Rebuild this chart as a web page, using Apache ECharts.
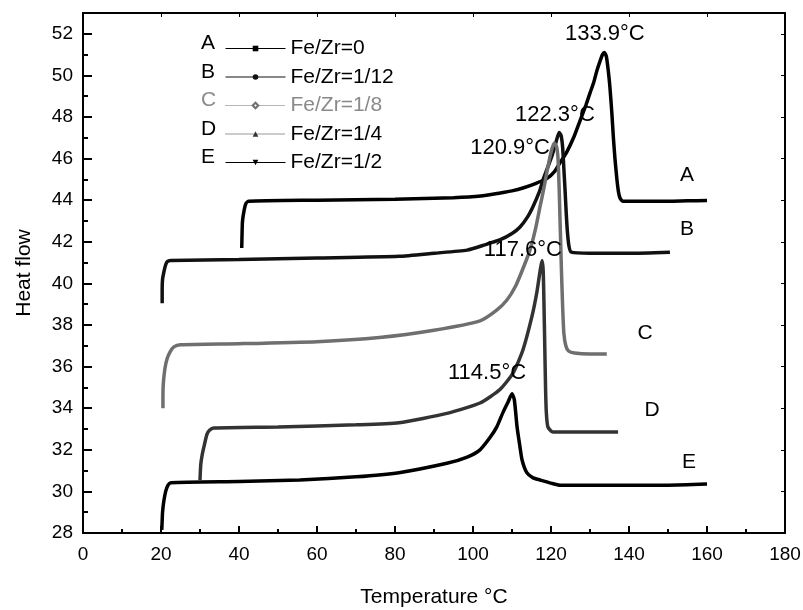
<!DOCTYPE html>
<html>
<head>
<meta charset="utf-8">
<title>DSC heat flow</title>
<script src="https://cdn.jsdelivr.net/npm/echarts@6/dist/echarts.min.js"></script>
<style>
  html, body { margin: 0; padding: 0; background: #fff; }
  #main { width: 803px; height: 610px; }
</style>
</head>
<body>
<div id="main"></div>
<script>
// curves: temperature (C) and heat flow
var aTemp = [40.7, 40.8, 40.9, 41.3, 41.8, 42.5, 60, 80, 95, 102, 107, 110, 113, 116, 119, 121, 122.3, 124, 126, 127.5, 129, 130, 131, 131.8, 132.6, 133.2, 133.7, 134.2, 134.7, 135.1, 135.6, 136, 136.4, 136.9, 137.3, 137.7, 138.5, 145, 150, 155, 160]
var aFlow = [41.7, 42.5, 43.0, 43.5, 43.85, 43.95, 44.0, 44.05, 44.12, 44.2, 44.35, 44.45, 44.6, 44.8, 45.05, 45.4, 45.8, 46.3, 47.1, 47.85, 48.6, 49.15, 49.7, 50.25, 50.7, 51.0, 51.1, 50.9, 50.2, 49.45, 48.2, 47.0, 46.0, 45.0, 44.4, 44.1, 43.95, 43.95, 43.95, 43.97, 43.98]

var bTemp = [20.3, 20.3, 20.4, 20.8, 21.2, 21.6, 22.5, 40, 60, 81, 90, 98.5, 103, 107, 110, 112, 114, 115.4, 117, 118, 119.2, 120.2, 121, 121.6, 122.1, 122.6, 123, 123.3, 123.6, 123.9, 124.2, 124.6, 125.2, 130, 140, 150.5]
var bFlow = [39.05, 39.6, 40.2, 40.6, 40.9, 41.05, 41.1, 41.15, 41.22, 41.3, 41.45, 41.6, 41.85, 42.1, 42.4, 42.7, 43.2, 43.7, 44.4, 45.0, 45.6, 46.1, 46.6, 47.0, 47.25, 47.1, 46.5, 45.5, 44.5, 43.4, 42.5, 41.8, 41.5, 41.45, 41.45, 41.5]

var cTemp = [20.5, 20.5, 20.6, 21.0, 21.6, 22.3, 23.3, 25, 40, 60, 76, 90, 101.8, 106, 108.7, 111, 113, 114.6, 116, 117.2, 118.2, 119.2, 120, 120.8, 121.4, 121.8, 122.1, 122.4, 122.7, 123, 123.3, 123.8, 124.5, 126, 130, 134.3]
var cFlow = [34.0, 34.6, 35.2, 35.9, 36.4, 36.7, 36.95, 37.05, 37.1, 37.2, 37.4, 37.75, 38.2, 38.7, 39.2, 39.9, 40.8, 41.6, 42.6, 43.7, 44.6, 45.6, 46.3, 46.75, 46.6, 46.0, 44.5, 42.5, 40.5, 38.8, 37.6, 37.0, 36.75, 36.65, 36.6, 36.6]

var dTemp = [30.0, 30.2, 30.6, 31.2, 31.8, 32.5, 33.5, 50, 70, 81, 93.3, 101.8, 106.9, 110.3, 112.8, 115.1, 116.4, 117.2, 117.7, 118.0, 118.2, 118.4, 118.6, 118.8, 119.2, 120.5, 130, 137.2]
var dFlow = [30.55, 31.3, 31.8, 32.3, 32.75, 32.95, 33.05, 33.1, 33.2, 33.3, 33.75, 34.25, 34.9, 35.7, 36.8, 38.4, 39.6, 40.6, 41.1, 40.6, 39.0, 37.0, 35.0, 33.8, 33.1, 32.85, 32.85, 32.85]

var eTemp = [20.2, 20.3, 20.4, 20.7, 21.2, 21.8, 22.5, 40, 55.6, 70, 81, 93.3, 98.5, 101.8, 104.4, 106.1, 107.7, 109, 110, 110.6, 111.3, 112, 112.6, 113.8, 115.4, 117.2, 120, 122.3, 130, 140, 150, 160]
var eFlow = [28.15, 28.6, 29.0, 29.5, 30.0, 30.3, 30.42, 30.48, 30.55, 30.7, 30.9, 31.35, 31.65, 32.0, 32.6, 33.1, 33.8, 34.3, 34.7, 34.4, 33.1, 32.2, 31.5, 30.9, 30.65, 30.55, 30.4, 30.3, 30.3, 30.3, 30.3, 30.35]

var seriesNames = ['Fe/Zr=0', 'Fe/Zr=1/12', 'Fe/Zr=1/8', 'Fe/Zr=1/4', 'Fe/Zr=1/2']
var curveLetters = ['A', 'B', 'C', 'D', 'E']

// peak annotations and curve letters (data coordinates)
var peakText = ['133.9°C', '122.3°C', '120.9°C', '117.6°C', '114.5°C']
var peakX = [133.8, 121.0, 109.5, 112.8, 103.6]
var peakY = [51.99, 48.1, 46.5, 41.6, 35.7]
var letterX = [154.9, 154.9, 144.1, 145.9, 155.4]
var letterY = [45.2, 42.6, 37.6, 33.9, 31.4]

var xMin = 0, xMax = 180, xStep = 20
var yMin = 28, yMax = 53, yStep = 2

var font = 'Liberation Sans'

function zip (t, v) {
  var out = []
  for (var i = 0; i < t.length; i++) out.push([t[i], v[i]])
  return out
}

function notes (xs, ys, texts) {
  var out = []
  for (var i = 0; i < xs.length; i++) out.push([xs[i], ys[i], texts[i]])
  return out
}

var curves = [
  { data: zip(aTemp, aFlow), color: '#000', symbol: 'rect', legendLine: 'solid' },
  { data: zip(bTemp, bFlow), color: '#111', symbol: 'circle', legendLine: 'solid' },
  { data: zip(cTemp, cFlow), color: '#6f6f6f', symbol: 'emptyDiamond', legendLine: 'dotted' },
  { data: zip(dTemp, dFlow), color: '#333', symbol: 'triangle', legendLine: 'dotted' },
  { data: zip(eTemp, eFlow), color: '#000', symbol: 'triangle', rotate: 180, legendLine: 'solid' }
]

var series = curves.map(function (c, i) {
  return {
    name: seriesNames[i],
    type: 'line',
    data: c.data,
    showSymbol: false,
    symbol: c.symbol,
    symbolRotate: c.rotate || 0,
    smooth: 0.2,
    lineStyle: { color: c.color, width: 3.5 },
    itemStyle: { color: c.color },
    animation: false,
    z: 3
  }
})

function noteSeries (name, data, size) {
  return {
    name: name,
    type: 'scatter',
    data: data,
    symbolSize: 1,
    itemStyle: { color: 'rgba(0,0,0,0)' },
    label: {
      show: true,
      position: 'inside',
      formatter: function (p) { return p.data[2] },
      fontFamily: font,
      fontSize: size,
      color: '#000',
      textBorderWidth: 0,
      opacity: 1
    },
    silent: true,
    animation: false,
    z: 5
  }
}

series.push(noteSeries('peaks', notes(peakX, peakY, peakText), 22))
series.push(noteSeries('letters', notes(letterX, letterY, curveLetters), 21))

var frameLine = { onZero: false, lineStyle: { color: '#000', width: 2 } }

var option = {
  backgroundColor: '#fff',
  animation: false,
  grid: { left: 83, right: 18, top: 13, bottom: 77, outerBoundsMode: 'none' },
  legend: {
    orient: 'vertical',
    left: 220,
    top: 33,
    itemWidth: 60,
    itemHeight: 7,
    itemGap: 7.5,
    textStyle: { fontFamily: font, fontSize: 21, color: '#000' },
    data: seriesNames.map(function (n, i) {
      return {
        name: n,
        textStyle: { color: i === 2 ? '#8a8a8a' : '#000' },
        lineStyle: { width: 1, type: curves[i].legendLine, color: curves[i].color }
      }
    })
  },
  graphic: curveLetters.map(function (c, i) {
    return {
      type: 'text',
      left: 201,
      top: 33 + i * 28.5,
      style: { text: c, font: '21px "Liberation Sans"', fill: i === 2 ? '#8a8a8a' : '#000' }
    }
  }),
  xAxis: [{
    type: 'value',
    min: xMin, max: xMax, interval: xStep,
    position: 'bottom',
    name: 'Temperature °C',
    nameLocation: 'middle',
    nameGap: 54,
    nameTextStyle: { fontFamily: font, fontSize: 21, color: '#000' },
    axisLine: frameLine,
    axisTick: { inside: true, length: 7, lineStyle: { color: '#000', width: 2 } },
    minorTick: { show: true, splitNumber: 2, length: 4, lineStyle: { color: '#000', width: 2 } },
    axisLabel: { fontFamily: font, fontSize: 19, color: '#000', margin: 12 },
    splitLine: { show: false }
  }, {
    type: 'value',
    min: xMin, max: xMax, interval: xStep,
    position: 'top',
    axisLine: frameLine,
    axisTick: { inside: true, length: 4, lineStyle: { color: '#000', width: 1 } },
    axisLabel: { show: false },
    splitLine: { show: false }
  }],
  yAxis: [{
    type: 'value',
    min: yMin, max: yMax, interval: yStep,
    position: 'left',
    name: 'Heat flow',
    nameLocation: 'middle',
    nameGap: 48,
    nameTextStyle: { fontFamily: font, fontSize: 21, color: '#000' },
    axisLine: frameLine,
    axisTick: { inside: true, length: 9, lineStyle: { color: '#000', width: 2 } },
    minorTick: { show: true, splitNumber: 2, length: 5, lineStyle: { color: '#000', width: 2 } },
    axisLabel: { fontFamily: font, fontSize: 19, color: '#000', margin: 10, showMaxLabel: false },
    splitLine: { show: false }
  }, {
    type: 'value',
    min: yMin, max: yMax, interval: yStep,
    position: 'right',
    axisLine: frameLine,
    axisTick: { inside: true, length: 4, lineStyle: { color: '#000', width: 1 } },
    axisLabel: { show: false },
    splitLine: { show: false }
  }],
  series: series
}

var chart = echarts.init(document.getElementById('main'), null, { renderer: 'canvas' })
chart.setOption(option)
</script>
</body>
</html>
